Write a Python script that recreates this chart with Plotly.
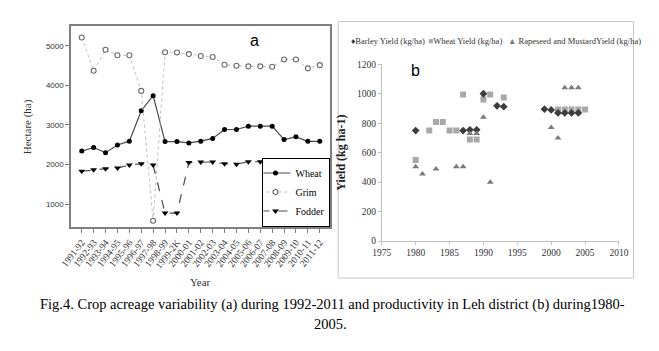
import plotly.graph_objects as go

# ---------------- Panel a data ----------------
seasons = ["1991-92", "1992-93", "1993-94", "1994-95", "1995-96", "1996-97", "1997-98",
           "1998-99", "1999-2K", "2000-01", "2001-02", "2002-03", "2003-04", "2004-05",
           "2005-06", "2006-07", "2007-08", "2008-09", "2009-10", "2010-11", "2011-12"]
wheat_ha = [2340, 2430, 2300, 2495, 2590, 3360, 3740, 2580, 2580, 2545, 2590, 2660,
            2885, 2885, 2970, 2970, 2970, 2630, 2700, 2585, 2585]
grim_ha = [5210, 4370, 4900, 4760, 4760, 3860, 580, 4836, 4830, 4790, 4740, 4715,
           4520, 4495, 4480, 4480, 4470, 4655, 4655, 4430, 4510]
fodder_ha = [1830, 1870, 1895, 1910, 1990, 2020, 1985, 773, 773, 2050, 2065, 2065,
             2020, 2010, 2070, 2070, 2070, 2040, 2090, 1950, 2000]
a_yticks = [1000, 2000, 3000, 4000, 5000]

# ---------------- Panel b data ----------------
barley_years = [1980, 1987, 1988, 1989, 1990, 1992, 1993, 1999, 2000, 2001, 2002, 2003, 2004]
barley_yield = [750, 750, 755, 755, 1000, 918, 912, 895, 890, 870, 870, 870, 870]
wheat_years = [1980, 1982, 1983, 1984, 1985, 1986, 1987, 1988, 1989, 1990, 1991, 1993,
               2001, 2002, 2003, 2004, 2005]
wheat_yield = [550, 750, 808, 808, 750, 750, 995, 690, 690, 960, 995, 975,
               893, 893, 893, 893, 893]
rape_years = [1980, 1981, 1983, 1986, 1987, 1988, 1989, 1990, 1991, 2000, 2001, 2002, 2003, 2004]
rape_yield = [505, 455, 490, 505, 505, 730, 730, 840, 400, 770, 700, 1040, 1040, 1040]

W, H = 659, 351
def px(x):
    return x / W
def py(y):
    return 1 - y / H

SERIF = "Liberation Serif, Times New Roman, serif"
SANS = "Liberation Sans, Arial, sans-serif"

fig = go.Figure()

fig.add_trace(go.Scatter(x=seasons, y=wheat_ha, name="Wheat", mode="lines+markers",
                         line=dict(color="#4a4a4a", width=1.2),
                         marker=dict(symbol="circle", size=5, color="black"),
                         xaxis="x", yaxis="y"))
fig.add_trace(go.Scatter(x=seasons, y=grim_ha, name="Grim", mode="lines+markers",
                         line=dict(color="#bdbdbd", width=1, dash="dot"),
                         marker=dict(symbol="circle", size=5, color="white",
                                     line=dict(color="#6a6a6a", width=1.1)),
                         xaxis="x", yaxis="y"))
fig.add_trace(go.Scatter(x=seasons, y=fodder_ha, name="Fodder", mode="lines+markers",
                         line=dict(color="#4a4a4a", width=1.2, dash="dash"),
                         marker=dict(symbol="triangle-down", size=6, color="black"),
                         xaxis="x", yaxis="y"))

fig.add_trace(go.Scatter(x=wheat_years, y=wheat_yield, mode="markers", showlegend=False,
                         marker=dict(symbol="square", size=6, color="#a8a8a8"),
                         xaxis="x2", yaxis="y2"))
fig.add_trace(go.Scatter(x=barley_years, y=barley_yield, mode="markers", showlegend=False,
                         marker=dict(symbol="diamond", size=6, color="#3c3c3c"),
                         xaxis="x2", yaxis="y2"))
fig.add_trace(go.Scatter(x=rape_years, y=rape_yield, mode="markers", showlegend=False,
                         marker=dict(symbol="triangle-up", size=6, color="#7a7a7a"),
                         xaxis="x2", yaxis="y2"))

def note(text, x, y, size, family, color="black", xanchor="center"):
    return dict(text=text, x=px(x), y=py(y), xref="paper", yref="paper",
                xanchor=xanchor, yanchor="middle", showarrow=False,
                font=dict(family=family, size=size, color=color))

annotations = [
    note("a", 251, 37, 16, SANS),
    note("b", 418, 67, 16, SANS),
    note("Year", 196, 285, 11, SERIF, "#333333"),
    note('<span style="color:#3c3c3c">♦</span>Barley Yield (kg/ha)', 349, 37, 8.5, SERIF, "#333333", "left"),
    note('<span style="color:#a8a8a8">■</span>Wheat Yield (kg/ha)', 429, 37, 8.5, SERIF, "#333333", "left"),
    note('<span style="color:#7a7a7a">▲</span> Rapeseed and MustardYield (kg/ha)', 511, 37, 8.5, SERIF, "#333333", "left"),
    note("Fig.4. Crop acreage variability (a) during 1992-2011 and productivity in Leh district (b) during1980-",
         332, 308, 14.5, SERIF),
    note("2005.", 330, 328, 14.5, SERIF),
]

shapes = [
    dict(type="rect", xref="paper", yref="paper", x0=px(338), x1=px(643), y0=py(281), y1=py(17),
         line=dict(color="#c8c8c8", width=1), fillcolor="rgba(0,0,0,0)", layer="below"),
]

fig.update_layout(
    width=W, height=H, autosize=False,
    margin=dict(l=0, r=0, t=0, b=0),
    paper_bgcolor="white", plot_bgcolor="white",
    annotations=annotations, shapes=shapes,
    legend=dict(x=px(330), xanchor="right", y=py(228), yanchor="bottom",
                bgcolor="white", bordercolor="black", borderwidth=1,
                font=dict(family=SERIF, size=10, color="black"),
                tracegroupgap=0, itemwidth=30, indentation=-8),
    xaxis=dict(domain=[px(62), px(330)], type="category", range=[-0.9, 20.9],
               tickmode="array", tickvals=seasons, ticktext=seasons,
               tickangle=-52, tickfont=dict(family=SERIF, size=9.5, color="#333333"),
               ticks="outside", ticklen=4, tickcolor="#7f7f7f",
               showline=True, mirror=True, linecolor="#7f7f7f", linewidth=1.5,
               showgrid=False, zeroline=False, anchor="y"),
    yaxis=dict(domain=[py(229), py(22)], range=[410, 5490], tickvals=a_yticks,
               tickfont=dict(family=SANS, size=8, color="#333333"),
               ticks="outside", ticklen=4, tickcolor="#7f7f7f",
               showline=True, mirror=True, linecolor="#7f7f7f", linewidth=1.5,
               showgrid=False, zeroline=False, anchor="x",
               title=dict(text="Hectare (ha)", font=dict(family=SERIF, size=11, color="#333333"), standoff=12)),
    xaxis2=dict(domain=[px(383), px(628)], range=[1975, 2010], dtick=5, tick0=1975,
                tickfont=dict(family=SERIF, size=9.5, color="#333333"),
                ticks="outside", ticklen=3, tickcolor="#bfbfbf",
                showline=True, linecolor="#bfbfbf", linewidth=1,
                showgrid=False, zeroline=False, anchor="y2"),
    yaxis2=dict(domain=[py(243), py(61)], range=[0, 1200], dtick=200,
                tickfont=dict(family=SERIF, size=9.5, color="#333333"),
                ticks="outside", ticklen=3, tickcolor="#bfbfbf",
                showline=True, linecolor="#bfbfbf", linewidth=1,
                showgrid=False, zeroline=False, anchor="x2",
                title=dict(text="<b>Yield (kg ha-1)</b>", font=dict(family=SERIF, size=12, color="#222222"), standoff=8)),
)

fig.write_html("out.html")
